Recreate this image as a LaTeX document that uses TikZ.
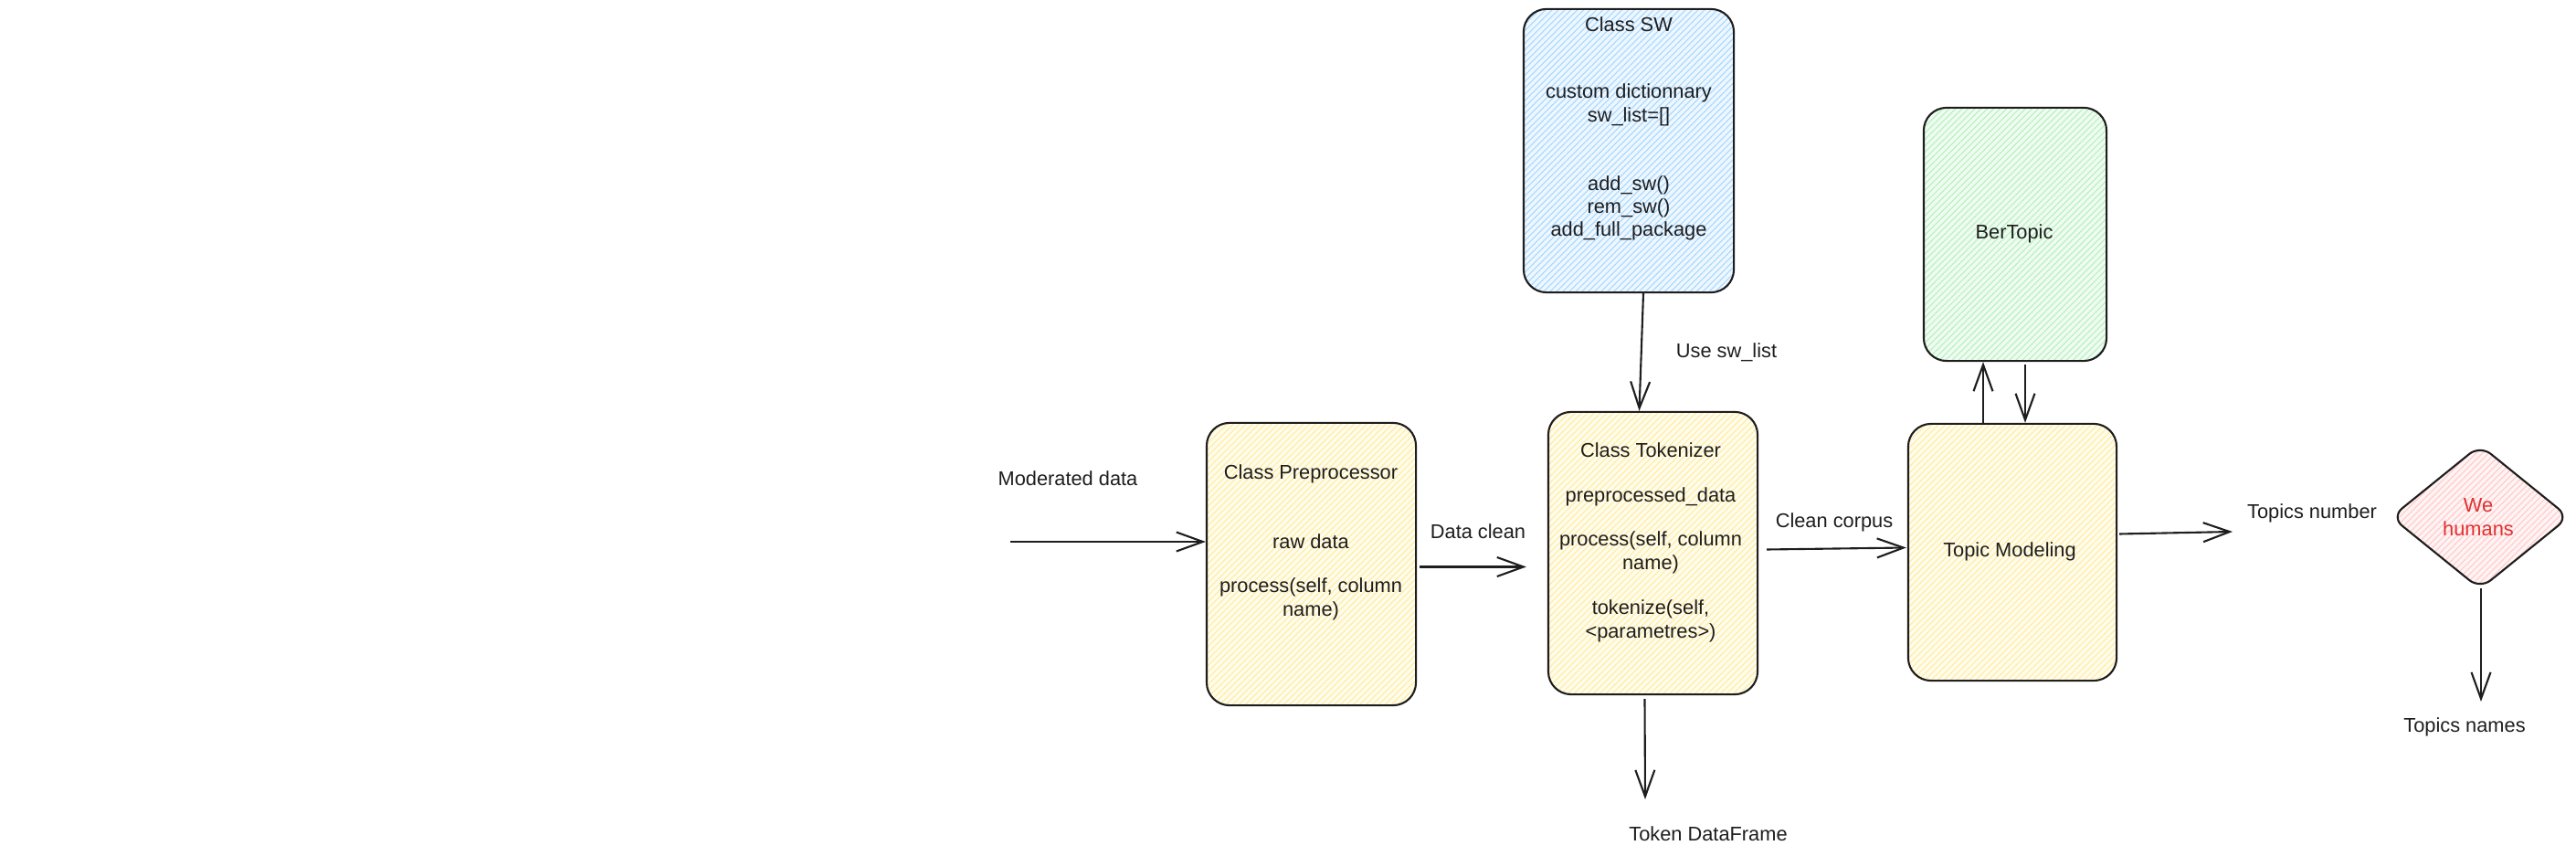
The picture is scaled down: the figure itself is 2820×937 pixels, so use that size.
\documentclass[tikz,border=0pt]{standalone}
\usepackage{fontspec}
\setmainfont{Liberation Sans}
\usetikzlibrary{arrows.meta,shapes.geometric,patterns.meta}
\definecolor{ink}{HTML}{1E1E1E}
\definecolor{bluefill}{HTML}{EEF7FF}
\definecolor{bluehatch}{HTML}{A5D8FF}
\definecolor{yellowfill}{HTML}{FFFCEE}
\definecolor{yellowhatch}{HTML}{FFEC99}
\definecolor{greenfill}{HTML}{F0FBF2}
\definecolor{greenhatch}{HTML}{B2F2BB}
\definecolor{redfill}{HTML}{FFF3F3}
\definecolor{redhatch}{HTML}{FFC9C9}
\definecolor{redtext}{HTML}{E03131}
\begin{document}
\begin{tikzpicture}[x=0.01cm,y=-0.01cm,
  txt/.style={font=\fontsize{6.2pt}{7.2pt}\selectfont, text=ink, align=center, inner sep=0pt},
  hatchfill/.style 2 args={preaction={fill=#1}, preaction={pattern={Lines[angle=45,distance=1.4pt,line width=0.3pt]}, pattern color=#2}},
  roundbox/.style={draw=ink, line width=0.6pt, rounded corners=0.25cm, rectangle, inner sep=0pt},
  dia/.style={draw=ink, line width=0.6pt, diamond, rounded corners=0.15cm, inner sep=0pt},
  arr/.style={draw=ink, line width=0.6pt, -{Straight Barb[length=2.9mm,width=2.1mm,line width=0.6pt]}}
]
\fill[white] (0,0) rectangle (2820,937);
\useasboundingbox (0,0) rectangle (2820,937);

% boxes
\node[roundbox, hatchfill={bluefill}{bluehatch}, minimum width=2.30cm, minimum height=3.10cm] (sw) at (1783,165) {};
\node[roundbox, hatchfill={yellowfill}{yellowhatch}, minimum width=2.29cm, minimum height=3.09cm] (pre) at (1435.5,617.5) {};
\node[roundbox, hatchfill={yellowfill}{yellowhatch}, minimum width=2.29cm, minimum height=3.09cm] (tok) at (1809.5,605.5) {};
\node[roundbox, hatchfill={yellowfill}{yellowhatch}, minimum width=2.28cm, minimum height=2.81cm] (tm) at (2203,604.5) {};
\node[roundbox, hatchfill={greenfill}{greenhatch}, minimum width=2.00cm, minimum height=2.77cm] (bt) at (2206,256.5) {};
\node[dia, hatchfill={redfill}{redhatch}, minimum width=1.95cm, minimum height=1.58cm] (dia) at (2715,566) {};

% texts in Class SW
\node[txt] (swtitle) at (1783,27) {Class SW};
\node[txt] (swattr) at (1783,115) {custom dictionnary\\sw\_list=[]};
\node[txt] (swmeth) at (1783,228) {add\_sw()\\rem\_sw()\\add\_full\_package};

% texts in Class Preprocessor
\node[txt] (pretitle) at (1435,519) {Class Preprocessor};
\node[txt] (preattr) at (1435,593) {raw data};
\node[txt] (premeth) at (1435,656) {process(self, column\\name)};

% texts in Class Tokenizer
\node[txt] (toktitle) at (1807,493) {Class Tokenizer};
\node[txt] (tokattr) at (1807,544) {preprocessed\_data};
\node[txt] (tokproc) at (1807,605) {process(self, column\\name)};
\node[txt] (toktok) at (1807,680) {tokenize(self,\\<parametres>)};

% texts in other shapes
\node[txt] (bttext) at (2205,256) {BerTopic};
\node[txt] (tmtext) at (2200,604) {Topic Modeling};
\node[txt, text=redtext] (diatext) at (2713,566) {We\\humans};

% free labels
\node[txt] (lmod) at (1169,524) {Moderated data};
\node[txt] (lclean) at (1618,582) {Data clean};
\node[txt] (lcorpus) at (2008,572) {Clean corpus};
\node[txt] (lsw) at (1890,386) {Use sw\_list};
\node[txt] (ltdf) at (1870,913) {Token DataFrame};
\node[txt] (ltnum) at (2531,562) {Topics number};
\node[txt] (ltnames) at (2698,796) {Topics names};

% connectors
\coordinate (modin) at (1106,593);
\draw[arr] (modin) -- (modin -| pre.west);
\draw[arr] ([shift={(3,3)}]pre.east) -- ([shift={(-23,15)}]tok.west);
\draw[arr] ([shift={(9,-4)}]tok.east) -- ([shift={(-1,-5)}]tm.west);
\draw[arr] ([shift={(16,0)}]sw.south) -- ([shift={(-15,0)}]tok.north);
\coordinate (tdfend) at (1801,875);
\draw[arr] ([shift={(-9,4)}]tok.south) -- (tdfend);
\draw[arr] ([shift={(-32,0)}]tm.north) -- ([shift={(-35,0)}]bt.south);
\draw[arr] ([shift={(11,3)}]bt.south) -- ([shift={(14,0)}]tm.north);
\coordinate (tnumend) at (2444,582);
\draw[arr] ([shift={(2,-20)}]tm.east) -- (tnumend);
\coordinate (tnamesend) at (2716,768);
\draw[arr] ([shift={(1,-2)}]dia.south) -- (tnamesend);
\end{tikzpicture}
\end{document}
